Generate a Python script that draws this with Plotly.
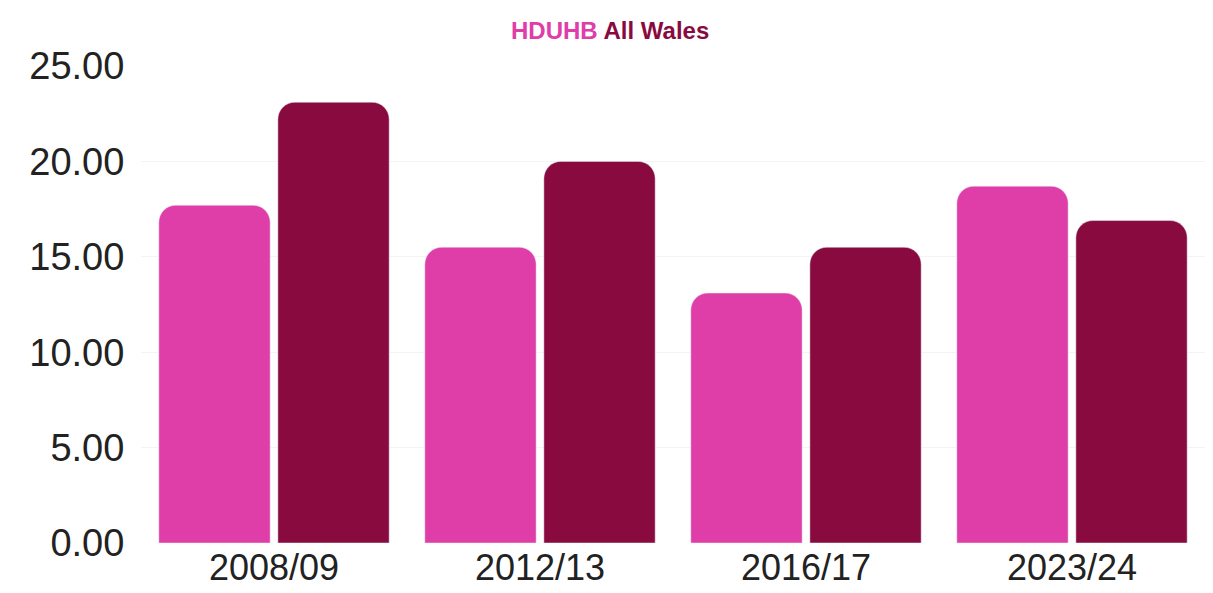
import plotly.graph_objects as go

categories = ["2008/09", "2012/13", "2016/17", "2023/24"]
hduhb = [17.7, 15.5, 13.1, 18.7]
all_wales = [23.1, 20.0, 15.5, 16.9]
y_ticks = [0, 5, 10, 15, 20, 25]

PINK = "#DF3DA7"
MAROON = "#880A3F"

fig = go.Figure()
fig.add_trace(go.Bar(x=categories, y=hduhb, name="HDUHB", marker_color=PINK))
fig.add_trace(go.Bar(x=categories, y=all_wales, name="All Wales", marker_color=MAROON))

fig.update_layout(
    width=1213, height=593,
    margin=dict(l=141, r=8, t=66, b=50, autoexpand=False),
    paper_bgcolor="white", plot_bgcolor="white",
    barmode="group", bargap=0.105, bargroupgap=0.065,
    barcornerradius=17,
    showlegend=False,
    font=dict(family="Liberation Sans, Arial, sans-serif", color="#222222"),
    title=dict(
        text=f"<b><span style='color:{PINK}'>HDUHB</span> <span style='color:{MAROON}'>All Wales</span></b>",
        x=0.503, xanchor="center", xref="container",
        y=1 - 31 / 593, yanchor="middle", yref="container",
        font=dict(size=24),
    ),
)
fig.update_yaxes(
    range=[0, 25], tickvals=y_ticks, tickformat=".2f",
    showgrid=True, gridcolor="#f4f4f4", gridwidth=1,
    zeroline=False, showline=False, automargin=False,
    ticks="outside", ticklen=8, tickcolor="rgba(0,0,0,0)",
    tickfont=dict(size=38, color="#222222"),
)
fig.update_xaxes(
    showgrid=False, showline=False, zeroline=False, automargin=False,
    ticks="", ticklen=0,
    tickfont=dict(size=36, color="#222222"),
)

fig.write_html("out.html")
